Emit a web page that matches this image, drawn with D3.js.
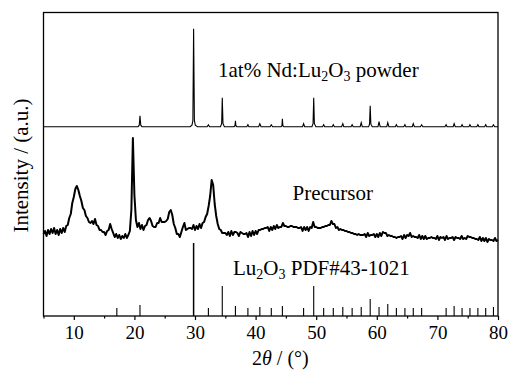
<!DOCTYPE html>
<html>
<head>
<meta charset="utf-8">
<script src="https://cdn.jsdelivr.net/npm/d3@7"></script>
<style>
  body { margin: 0; background: #fff; }
</style>
</head>
<body>
<script>
// tick values of the 2theta axis
const majorTicks = [10, 20, 30, 40, 50, 60, 70, 80];
const minorTicks = [5, 15, 25, 35, 45, 55, 65, 75];

// 1at% Nd:Lu2O3 powder, [2theta, intensity]
const powder = [
  [5, 0],
  [20.6, 0], [20.8, 1.5], [20.92, 11], [21.05, 1.5], [21.25, 0],
  [29.2, 0], [29.5, 1.5], [29.65, 6], [29.77, 98], [29.9, 6], [30.05, 1.5], [30.4, 0],
  [32.0, 0], [32.21, 2], [32.4, 0],
  [34.2, 0], [34.4, 3], [34.5, 29], [34.62, 3], [34.85, 0],
  [36.45, 0], [36.6, 1], [36.67, 6], [36.75, 1], [36.9, 0],
  [38.55, 0], [38.73, 2], [38.9, 0],
  [40.5, 0], [40.7, 3], [40.9, 0],
  [42.4, 0], [42.59, 2], [42.8, 0],
  [44.2, 0], [44.35, 1], [44.42, 8], [44.5, 1], [44.65, 0],
  [47.75, 0], [47.92, 3], [48.1, 0],
  [49.3, 0], [49.48, 3], [49.59, 29], [49.7, 3], [49.95, 0],
  [51.05, 0], [51.23, 2], [51.4, 0],
  [52.65, 0], [52.82, 2], [53.0, 0],
  [54.2, 0], [54.39, 3], [54.55, 0],
  [55.75, 0], [55.93, 2], [56.1, 0],
  [57.25, 0], [57.43, 4], [57.6, 0],
  [58.65, 0], [58.8, 2.5], [58.91, 21], [59.02, 2.5], [59.25, 0],
  [60.2, 0], [60.37, 5], [60.55, 0],
  [61.65, 0], [61.81, 4], [62.0, 0],
  [63.05, 0], [63.23, 2], [63.4, 0],
  [64.45, 0], [64.64, 2], [64.8, 0],
  [65.85, 0], [66.02, 3], [66.2, 0],
  [67.2, 0], [67.4, 2], [67.6, 0],
  [71.25, 0], [71.44, 2], [71.6, 0],
  [72.6, 0], [72.76, 3], [72.95, 0],
  [73.9, 0], [74.07, 2], [74.25, 0],
  [75.2, 0], [75.37, 2], [75.55, 0],
  [76.5, 0], [76.68, 2], [76.85, 0],
  [77.8, 0], [77.97, 2], [78.15, 0],
  [79.05, 0], [79.25, 2], [79.45, 0],
  [80, 0]
];

// Precursor, intensity every 0.25 deg from 5 to 80
const precursorStart = 5;
const precursorStep = 0.25;
const precursor = [
  6, 9, 4, 10, 6, 11, 7, 12, 6, 10, 5, 11, 7, 12, 8, 14, 15, 22, 26, 37,
  43, 51, 54, 50, 44, 39, 32, 30, 24, 22, 18, 17, 19, 16, 21, 15, 14, 10, 10, 8,
  8, 5, 9, 10, 16, 11, 7, 3, 6, 2, 5, 1, 4, 2, 6, 2, 5, 9, 30, 102,
  45, 20, 13, 17, 11, 15, 10, 14, 15, 20, 22, 19, 14, 13, 13, 17, 17, 22, 18, 18,
  18, 19, 21, 28, 30, 25, 16, 12, 6, 6, 3, 8, 13, 17, 10, 11, 12, 12, 11, 15,
  10, 14, 11, 16, 12, 17, 18, 23, 26, 34, 44, 60, 55, 36, 24, 16, 11, 10, 7, 7,
  7, 5, 8, 4, 9, 5, 8, 8, 7, 4, 8, 7, 6, 6, 7, 3, 8, 4, 9, 5,
  9, 6, 10, 10, 11, 11, 12, 12, 13, 9, 13, 10, 14, 11, 15, 12, 13, 13, 17, 14,
  14, 13, 13, 14, 14, 13, 13, 13, 12, 12, 13, 9, 13, 10, 13, 9, 13, 12, 18, 13,
  13, 12, 12, 12, 13, 13, 14, 14, 15, 15, 19, 16, 16, 12, 13, 10, 11, 10, 10, 9,
  9, 8, 8, 7, 7, 6, 6, 5, 6, 5, 5, 5, 6, 3, 7, 4, 5, 5, 6, 3,
  6, 3, 7, 4, 8, 7, 7, 4, 5, 4, 4, 3, 3, 2, 3, 3, 4, 1, 5, 2,
  5, 4, 7, 3, 4, 3, 3, 2, 5, 1, 4, 1, 4, 1, 2, 2, 3, 2, 2, 1,
  4, 0, 3, 2, 3, 0, 4, 1, 2, 2, 3, 0, 3, 2, 2, 1, 4, 1, 2, 1,
  4, 3, 3, 2, 2, 1, 1, 0, 3, -1, 2, -1, 2, -2, 1, 0, 0, -1, 2, -1,
  0
];

// Lu2O3 PDF#43-1021 reference lines
const refAngle = [17.1, 20.92, 29.77, 32.21, 34.5, 36.67, 38.73, 40.7, 42.59, 44.42,
  47.92, 49.59, 51.23, 52.82, 54.39, 55.93, 57.43, 58.91, 60.37, 61.81,
  63.23, 64.64, 66.02, 67.4, 71.44, 72.76, 74.07, 75.37, 76.68, 77.97, 79.25];
const refHeight = [8, 11, 73, 8, 30, 10, 8, 9, 8, 10,
  8, 30, 8, 8, 9, 8, 9, 17, 9, 12,
  8, 8, 8, 8, 8, 10, 8, 8, 8, 8, 9];

const width = 510;
const height = 371;
const margin = { top: 12.5, right: 12, bottom: 55, left: 43.5 };
const serif = '"Liberation Serif", "Times New Roman", Times, serif';

// vertical offsets of the stacked patterns
const powderOffset = 189.3;
const precursorOffset = 76;

const svg = d3.select('body').append('svg')
  .attr('width', width)
  .attr('height', height);

const x = d3.scaleLinear().domain([5, 80]).range([margin.left, width - margin.right]);
const y = d3.scaleLinear().domain([0, height - margin.top - margin.bottom])
  .range([height - margin.bottom, margin.top]);

const line = d3.line().x(d => x(d[0])).y(d => y(d[1]));

// reference sticks
svg.append('g').selectAll('line')
  .data(refAngle.map((a, i) => [a, refHeight[i]]))
  .join('line')
  .attr('x1', d => x(d[0])).attr('x2', d => x(d[0]))
  .attr('y1', y(0)).attr('y2', d => y(d[1]))
  .attr('stroke', '#000')
  .attr('stroke-width', d => d[1] > 50 ? 1.5 : 1.1);

// precursor trace
svg.append('path')
  .datum(precursor.map((v, i) => [precursorStart + i * precursorStep, v + precursorOffset]))
  .attr('d', line)
  .attr('fill', 'none')
  .attr('stroke', '#000')
  .attr('stroke-width', 2)
  .attr('stroke-linejoin', 'round');

// powder trace
svg.append('path')
  .datum(powder.map(d => [d[0], d[1] + powderOffset]))
  .attr('d', line)
  .attr('fill', 'none')
  .attr('stroke', '#000')
  .attr('stroke-width', 1.1);

// frame
svg.append('rect')
  .attr('x', margin.left).attr('y', margin.top)
  .attr('width', width - margin.left - margin.right)
  .attr('height', height - margin.top - margin.bottom)
  .attr('fill', 'none')
  .attr('stroke', '#000')
  .attr('stroke-width', 1.3);

const xAxis = svg.append('g')
  .attr('transform', `translate(0,${height - margin.bottom})`)
  .call(d3.axisBottom(x).tickValues(majorTicks).tickSize(4).tickPadding(6).tickFormat(d3.format('d')));
xAxis.attr('font-family', serif).attr('font-size', 19);
xAxis.select('.domain').remove();
xAxis.selectAll('line').attr('stroke-width', 1.2);
xAxis.selectAll('text').attr('fill', '#000');

const xMinor = svg.append('g')
  .attr('transform', `translate(0,${height - margin.bottom})`)
  .call(d3.axisBottom(x).tickValues(minorTicks).tickSize(2.5).tickFormat(''));
xMinor.select('.domain').remove();
xMinor.selectAll('line').attr('stroke-width', 1.2);

// axis titles
const xt = svg.append('text')
  .attr('x', 252).attr('y', 365)
  .attr('font-family', serif)
  .attr('font-size', 20);
xt.append('tspan').text('2');
xt.append('tspan').attr('font-style', 'italic').text('θ');
xt.append('tspan').text(' / (°)');

svg.append('text')
  .attr('transform', 'translate(28,165.5) rotate(-90)')
  .attr('text-anchor', 'middle')
  .attr('font-family', serif)
  .attr('font-size', 21)
  .text('Intensity / (a.u.)');

// series labels with subscripts
function label(px, py, parts) {
  const t = svg.append('text').attr('x', px).attr('y', py)
    .attr('font-family', serif).attr('font-size', 21);
  parts.forEach(p => {
    if (p.sub) {
      t.append('tspan').attr('dy', 4).attr('font-size', 14).text(p.s);
    } else {
      t.append('tspan').attr('dy', p.back ? -4 : 0).text(p.s);
    }
  });
}

label(218, 77, [{ s: '1at% Nd:Lu' }, { s: '2', sub: true }, { s: 'O', back: true }, { s: '3', sub: true }, { s: ' powder', back: true }]);
label(292.5, 200, [{ s: 'Precursor' }]);
label(233, 275, [{ s: 'Lu' }, { s: '2', sub: true }, { s: 'O', back: true }, { s: '3', sub: true }, { s: ' PDF#43-1021', back: true }]);
</script>
</body>
</html>
